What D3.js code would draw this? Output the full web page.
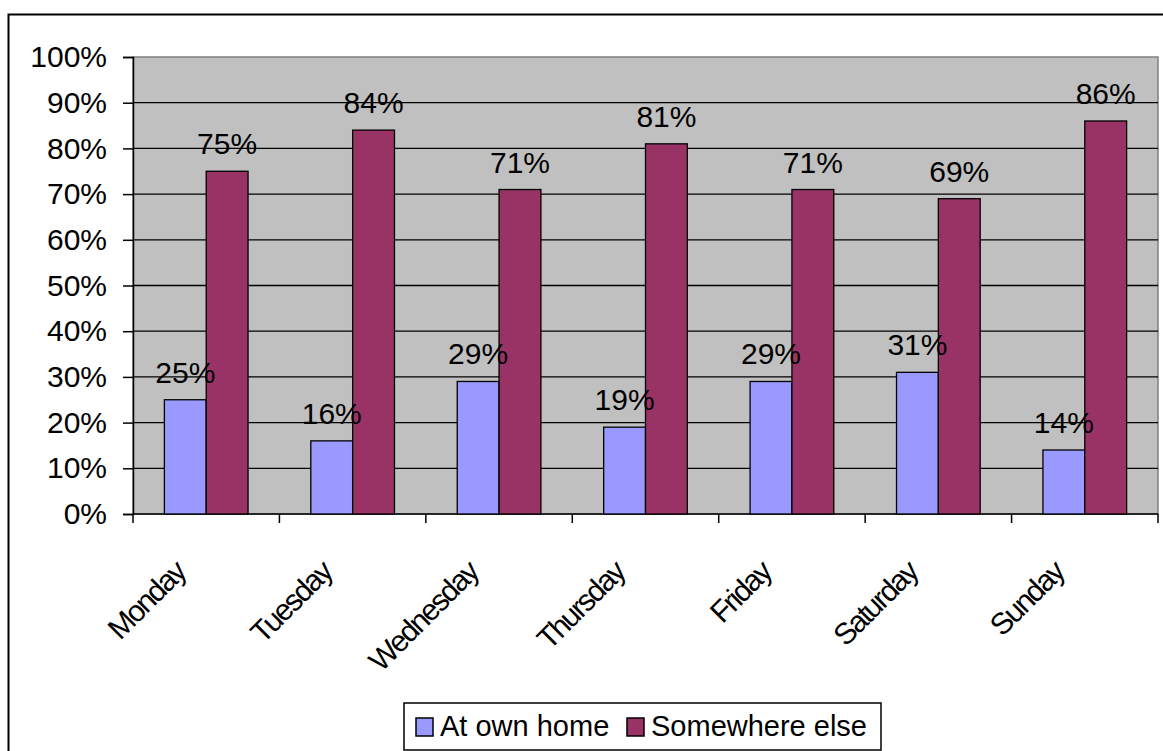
<!DOCTYPE html>
<html>
<head>
<meta charset="utf-8">
<script src="https://cdn.jsdelivr.net/npm/d3@7"></script>
<style>
  html, body { margin: 0; padding: 0; background: #fff; }
  svg { display: block; font-family: "Liberation Sans", Arial, sans-serif; }
</style>
</head>
<body>
<svg id="chart" width="1163" height="751"></svg>
<script>
// Share of people by weekday and location
const days = ["Monday", "Tuesday", "Wednesday", "Thursday", "Friday", "Saturday", "Sunday"];
const atOwnHome = [25, 16, 29, 19, 29, 31, 14];
const somewhereElse = [75, 84, 71, 81, 71, 69, 86];
const seriesNames = ["At own home", "Somewhere else"];
const seriesColors = ["#9999ff", "#993366"];
const yTicks = [0, 10, 20, 30, 40, 50, 60, 70, 80, 90, 100];

const svg = d3.select("#chart");
const plot = { left: 133, right: 1158, top: 57, bottom: 514 };

// Outer chart frame
svg.append("rect")
  .attr("x", 8.5).attr("y", 14.5)
  .attr("width", 1170).attr("height", 760)
  .attr("fill", "#fff").attr("stroke", "#000").attr("stroke-width", 2);

const x = d3.scaleBand().domain(days).range([plot.left, plot.right]);
// Bars take 2 of every 3.5 units of a category (gap width 150%)
const barW = x.bandwidth() / 3.5;
const xs = d3.scaleBand().domain(seriesNames)
  .range([x.bandwidth() * 0.75 / 3.5, x.bandwidth() * 0.75 / 3.5 + 2 * barW]);
const y = d3.scaleLinear().domain([0, 100]).range([plot.bottom, plot.top]);

// Plot area background
svg.append("rect")
  .attr("x", plot.left).attr("y", plot.top)
  .attr("width", plot.right - plot.left).attr("height", plot.bottom - plot.top)
  .attr("fill", "#c0c0c0").attr("stroke", "#808080").attr("stroke-width", 1.5);

// Horizontal gridlines
svg.append("g").selectAll("line")
  .data(yTicks.filter(t => t > 0 && t < 100))
  .join("line")
  .attr("x1", plot.left).attr("x2", plot.right)
  .attr("y1", d => y(d)).attr("y2", d => y(d))
  .attr("stroke", "#000").attr("stroke-width", 1.3);

// Y axis
const yAxis = svg.append("g")
  .attr("transform", `translate(${plot.left},0)`)
  .call(d3.axisLeft(y).tickValues(yTicks).tickFormat(d => d + "%").tickSize(10).tickPadding(16));
yAxis.select(".domain").attr("stroke", "#000").attr("stroke-width", 1.5);
yAxis.selectAll(".tick line").attr("stroke", "#000").attr("stroke-width", 1.5);
yAxis.selectAll("text")
  .attr("font-size", 30).attr("fill", "#000")
  .attr("font-family", "Liberation Sans, Arial, sans-serif");

// X axis with ticks on category boundaries
const xAxisG = svg.append("g");
xAxisG.append("line")
  .attr("x1", plot.left).attr("x2", plot.right)
  .attr("y1", plot.bottom).attr("y2", plot.bottom)
  .attr("stroke", "#000").attr("stroke-width", 1.5);
const boundaries = days.map(d => x(d)).concat([x(days[days.length - 1]) + x.bandwidth()]);
xAxisG.selectAll(".tk").data(boundaries).join("line")
  .attr("class", "tk")
  .attr("x1", d => d).attr("x2", d => d)
  .attr("y1", plot.bottom).attr("y2", plot.bottom + 9)
  .attr("stroke", "#000").attr("stroke-width", 1.5);
xAxisG.selectAll("text").data(days).join("text")
  .attr("transform", d => `translate(${x(d) + x.bandwidth() / 2 - 19},${plot.bottom + 60}) rotate(-45)`)
  .attr("text-anchor", "end")
  .attr("font-size", 30)
  .attr("letter-spacing", -2)
  .attr("fill", "#000")
  .text(d => d);

// Bars
const rows = days.map((d, i) => ({ day: d, values: [atOwnHome[i], somewhereElse[i]] }));
const groups = svg.append("g").selectAll("g")
  .data(rows).join("g")
  .attr("transform", d => `translate(${x(d.day)},0)`);

groups.selectAll("rect")
  .data(d => d.values.map((v, k) => ({ name: seriesNames[k], v, k })))
  .join("rect")
  .attr("x", d => xs(d.name))
  .attr("width", xs.bandwidth())
  .attr("y", d => y(d.v))
  .attr("height", d => y(0) - y(d.v))
  .attr("fill", d => seriesColors[d.k])
  .attr("stroke", "#000").attr("stroke-width", 1.3);

// Value labels
groups.selectAll("text")
  .data(d => d.values.map((v, k) => ({ name: seriesNames[k], v, k })))
  .join("text")
  .attr("x", d => xs(d.name) + xs.bandwidth() / 2)
  .attr("y", d => y(d.v) - 17)
  .attr("text-anchor", "middle")
  .attr("font-size", 30)
  .attr("fill", "#000")
  .text(d => d.v + "%");

// Legend
const legend = svg.append("g");
legend.append("rect")
  .attr("x", 404).attr("y", 703).attr("width", 477).attr("height", 47)
  .attr("fill", "#fff").attr("stroke", "#000").attr("stroke-width", 1.5);
const legendItems = [
  { name: seriesNames[0], color: seriesColors[0], x: 416 },
  { name: seriesNames[1], color: seriesColors[1], x: 627 }
];
const li = legend.selectAll("g.item").data(legendItems).join("g")
  .attr("class", "item")
  .attr("transform", d => `translate(${d.x},718)`);
li.append("rect")
  .attr("width", 17).attr("height", 18)
  .attr("fill", d => d.color).attr("stroke", "#000").attr("stroke-width", 1.5);
li.append("text")
  .attr("x", 24).attr("y", 18)
  .attr("font-size", 29).attr("fill", "#000")
  .text(d => d.name);
</script>
</body>
</html>
